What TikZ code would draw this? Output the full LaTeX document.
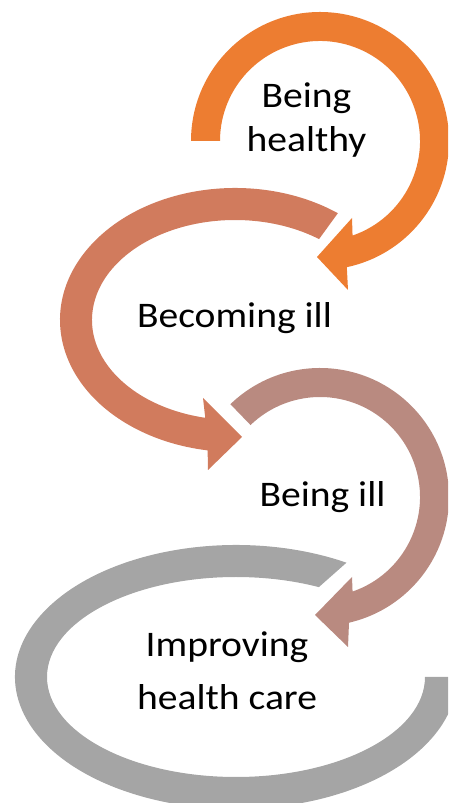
\documentclass[tikz,border=0pt]{standalone}
\usepackage{fontspec}
\setmainfont{Carlito}[FakeStretch=1.1]
\usepackage{xcolor}

\definecolor{healthyorange}{HTML}{ED7D31}
\definecolor{becomingcoral}{HTML}{D17B5D}
\definecolor{illrose}{HTML}{B98A80}
\definecolor{caregray}{HTML}{A5A5A5}

\begin{document}
\begin{tikzpicture}[
                x=1pt, y=1pt,
                stage/.style={align=center, anchor=base, text=black, font=\fontsize{36}{44}\selectfont},
                band/.style={draw=none}
            ]
            \useasboundingbox (0,0) rectangle (448,803);
            \clip (0,0) rectangle (448,803);

            % four curved arrows, one per stage
            \fill[band, healthyorange, shift={(320,662)}]
                (180:100) -- (180:129) arc[start angle=180, end angle=-78, radius=129]
                -- (28,-149) -- (-3,-116) -- (32,-77)
                -- (-71:100) arc[start angle=-71, end angle=180, radius=100] -- cycle;
            \fill[band, becomingcoral, shift={(235,483)}]
                (54:143 and 100) -- (54:175 and 132) arc[start angle=54, end angle=261, x radius=175, y radius=132]
                -- (-27,-150) -- (7,-117) -- (-32,-78)
                -- (258:143 and 100) arc[start angle=258, end angle=54, x radius=143, y radius=100] -- cycle;
            \fill[band, illrose, shift={(320,306)}]
                (134:100) -- (134:129) arc[start angle=134, end angle=-77, radius=129]
                -- (28,-150) -- (-5,-118) -- (32,-80)
                -- (-71:100) arc[start angle=-71, end angle=134, radius=100] -- cycle;
            \fill[band, caregray, shift={(236,126)}]
                (64:189 and 100) -- (60:221 and 132) arc[start angle=60, end angle=360, x radius=221, y radius=132]
                -- (0:189 and 100) arc[start angle=360, end angle=64, x radius=189, y radius=100] -- cycle;

            % labels (base = baseline of the last line)
            \node[stage] (healthy) at (306.5,651) {Being\\healthy};
            \node[stage] (becoming) at (234.5,475) {Becoming ill};
            \node[stage] (ill) at (322.5,296) {Being ill};
            \node[stage, font=\fontsize{36}{53}\selectfont] (improving) at (227,93) {Improving\\health care};
        \end{tikzpicture}
\end{document}
